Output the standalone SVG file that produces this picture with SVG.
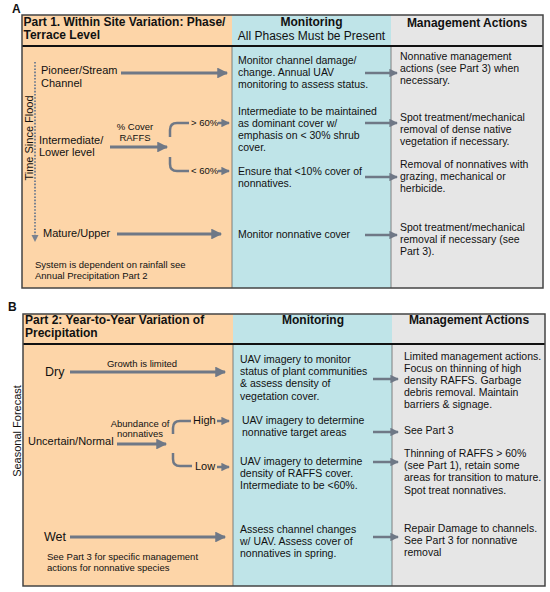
<svg xmlns="http://www.w3.org/2000/svg" width="550" height="592" viewBox="0 0 550 592">
<defs>
<style>
text{font-family:"Liberation Sans",Arial,sans-serif;fill:#111;}
.hd{font-size:12px;font-weight:bold;}
.hr{font-size:12px;}
.b{font-size:10.5px;}
.l{font-size:11px;}
.s{font-size:9.5px;}
.big{font-size:12.5px;}
.lab{font-size:12px;font-weight:bold;}
.org{fill:#FDD5A8;}
.cyn{fill:#BFE4E8;}
.gry{fill:#E6E6E6;}
.frame{fill:none;stroke:#444;stroke-width:1.5;}
.hline{stroke:#111;stroke-width:2;}
.sep{stroke:#666;stroke-width:0.8;}
.ar{stroke:#6F7886;stroke-width:3;fill:none;marker-end:url(#ah);}
.ars{stroke:#6F7886;stroke-width:2.5;fill:none;marker-end:url(#ahs);}
.cv{stroke:#6F7886;stroke-width:2.5;fill:none;}
</style>
<marker id="ah" viewBox="0 0 10 10" refX="9" refY="5" markerWidth="4" markerHeight="3.6" orient="auto" markerUnits="strokeWidth"><path d="M0,0 L10,5 L0,10 z" fill="#6F7886"/></marker>
<marker id="ahs" viewBox="0 0 10 10" refX="9" refY="5" markerWidth="3.6" markerHeight="3.4" orient="auto" markerUnits="strokeWidth"><path d="M0,0 L10,5 L0,10 z" fill="#6F7886"/></marker>
</defs>
<rect width="550" height="592" fill="#fff"/>

<text class="lab" x="12" y="13">A</text>
<text class="lab" x="8" y="311">B</text>

<g id="panelA">
<rect class="org" x="22" y="15" width="210" height="273"/>
<rect class="cyn" x="232" y="15" width="159" height="273"/>
<rect class="gry" x="391" y="15" width="152" height="273"/>
<line class="sep" x1="232" y1="46" x2="232" y2="288"/>
<line class="sep" x1="391" y1="46" x2="391" y2="288"/>
<line class="hline" x1="22" y1="46" x2="543" y2="46"/>
<rect class="frame" x="22" y="15" width="521" height="273"/>
</g>

<g id="panelB">
<rect class="org" x="23" y="314" width="210" height="272"/>
<rect class="cyn" x="233" y="314" width="159" height="272"/>
<rect class="gry" x="392" y="314" width="153" height="272"/>
<line class="sep" x1="233" y1="344" x2="233" y2="586"/>
<line class="sep" x1="392" y1="344" x2="392" y2="586"/>
<line class="hline" x1="23" y1="344" x2="545" y2="344"/>
<rect class="frame" x="23" y="314" width="522" height="272"/>
</g>

<g id="headerA">
<text class="hd" x="23.5" y="26">Part 1. Within Site Variation: Phase/</text>
<text class="hd" x="23.5" y="39">Terrace Level</text>
<text class="hd" x="311.5" y="26" text-anchor="middle">Monitoring</text>
<text class="hr" x="311.5" y="40" text-anchor="middle">All Phases Must be Present</text>
<text class="hd" x="467" y="27" text-anchor="middle">Management Actions</text>
</g>

<g id="headerB">
<text class="hd" x="25" y="324">Part 2: Year-to-Year Variation of</text>
<text class="hd" x="25" y="337">Precipitation</text>
<text class="hd" x="313" y="324" text-anchor="middle">Monitoring</text>
<text class="hd" x="469" y="324" text-anchor="middle">Management Actions</text>
</g>

<g id="axisA">
<line x1="35" y1="62" x2="35" y2="236" stroke="#7A8290" stroke-width="2" stroke-dasharray="1.6,1.6"/>
<path d="M31.5,235 L38.5,235 L35,242 z" fill="#7A8290"/>
<text class="l" transform="translate(32.5,138) rotate(-90)" text-anchor="middle">Time Since Flood</text>
</g>

<g id="leftA">
<text class="l" x="41" y="74">Pioneer/Stream</text>
<text class="l" x="41" y="87">Channel</text>
<text class="s" x="135" y="130" text-anchor="middle">% Cover</text>
<text class="s" x="135" y="141" text-anchor="middle">RAFFS</text>
<text class="l" x="39" y="144">Intermediate/</text>
<text class="l" x="39" y="156">Lower level</text>
<text class="s" x="191" y="126">&gt; 60%</text>
<text class="s" x="191" y="174">&lt; 60%</text>
<text class="l" x="43" y="237">Mature/Upper</text>
<text class="s" x="35" y="268">System is dependent on rainfall see</text>
<text class="s" x="35" y="279">Annual Precipitation Part 2</text>
</g>

<g id="monA">
<text class="b" x="238" y="64">Monitor channel damage/</text>
<text class="b" x="238" y="76">change. Annual UAV</text>
<text class="b" x="238" y="88">monitoring to assess status.</text>
<text class="b" x="238" y="115">Intermediate to be maintained</text>
<text class="b" x="238" y="127">as dominant cover w/</text>
<text class="b" x="238" y="139">emphasis on &lt; 30% shrub</text>
<text class="b" x="238" y="151">cover.</text>
<text class="b" x="238" y="175">Ensure that &lt;10% cover of</text>
<text class="b" x="238" y="187">nonnatives.</text>
<text class="b" x="238" y="238">Monitor nonnative cover</text>
</g>

<g id="mgmtA">
<text class="b" x="400" y="60">Nonnative management</text>
<text class="b" x="400" y="72">actions (see Part 3) when</text>
<text class="b" x="400" y="84">necessary.</text>
<text class="b" x="400" y="121">Spot treatment/mechanical</text>
<text class="b" x="400" y="133">removal of dense native</text>
<text class="b" x="400" y="145">vegetation if necessary.</text>
<text class="b" x="400" y="168">Removal of nonnatives with</text>
<text class="b" x="400" y="180">grazing, mechanical or</text>
<text class="b" x="400" y="192">herbicide.</text>
<text class="b" x="400" y="231">Spot treatment/mechanical</text>
<text class="b" x="400" y="243">removal if necessary (see</text>
<text class="b" x="400" y="255">Part 3).</text>
</g>

<g id="axisB">
<text class="l" transform="translate(20.5,431) rotate(-90)" text-anchor="middle">Seasonal Forecast</text>
</g>

<g id="leftB">
<text class="big" x="45" y="376">Dry</text>
<text class="s" x="142" y="367" text-anchor="middle">Growth is limited</text>
<text class="s" x="140" y="427" text-anchor="middle">Abundance of</text>
<text class="s" x="140" y="437" text-anchor="middle">nonnatives</text>
<text class="l" x="28" y="445">Uncertain/Normal</text>
<text class="l" x="193" y="424">High</text>
<text class="l" x="195" y="470">Low</text>
<text class="big" x="44" y="541">Wet</text>
<text class="s" x="47" y="560">See Part 3 for specific management</text>
<text class="s" x="47" y="571">actions for nonnative species</text>
</g>

<g id="monB">
<text class="b" x="240" y="363">UAV imagery to monitor</text>
<text class="b" x="240" y="375">status of plant communities</text>
<text class="b" x="240" y="387">&amp; assess density of</text>
<text class="b" x="240" y="400">vegetation cover.</text>
<text class="b" x="242" y="424">UAV imagery to determine</text>
<text class="b" x="242" y="436">nonnative target areas</text>
<text class="b" x="240" y="465">UAV imagery to determine</text>
<text class="b" x="240" y="477">density of RAFFS cover.</text>
<text class="b" x="240" y="489">Intermediate to be &lt;60%.</text>
<text class="b" x="240" y="533">Assess channel changes</text>
<text class="b" x="240" y="545">w/ UAV. Assess cover of</text>
<text class="b" x="240" y="557">nonnatives in spring.</text>
</g>

<g id="mgmtB">
<text class="b" x="404" y="360">Limited management actions.</text>
<text class="b" x="404" y="372">Focus on thinning of high</text>
<text class="b" x="404" y="384">density RAFFS. Garbage</text>
<text class="b" x="404" y="396">debris removal. Maintain</text>
<text class="b" x="404" y="408">barriers &amp; signage.</text>
<text class="b" x="404" y="434">See Part 3</text>
<text class="b" x="404" y="457">Thinning of RAFFS &gt; 60%</text>
<text class="b" x="404" y="469">(see Part 1), retain some</text>
<text class="b" x="404" y="481">areas for transition to mature.</text>
<text class="b" x="404" y="494">Spot treat nonnatives.</text>
<text class="b" x="404" y="532">Repair Damage to channels.</text>
<text class="b" x="404" y="544">See Part 3 for nonnative</text>
<text class="b" x="404" y="556">removal</text>
</g>

<g id="connectors">
<line class="ar" x1="121" y1="73" x2="227" y2="73"/>
<line class="ar" x1="110" y1="147" x2="167" y2="147"/>
<path class="cv" d="M170,137 L170,130 Q170,123 177,123 L189,123"/>
<path class="cv" d="M170,157 L170,164 Q170,171 177,171 L189,171"/>
<line class="ars" x1="218" y1="123" x2="229" y2="123"/>
<line class="ars" x1="218" y1="171" x2="229" y2="171"/>
<line class="ar" x1="117" y1="234" x2="221" y2="234"/>
<line class="ars" x1="365" y1="73" x2="397" y2="73"/>
<line class="ars" x1="365" y1="123" x2="397" y2="123"/>
<line class="ars" x1="365" y1="177" x2="397" y2="177"/>
<line class="ars" x1="365" y1="235" x2="397" y2="235"/>

<line class="ar" x1="70" y1="372" x2="225" y2="372"/>
<line class="ar" x1="117" y1="444" x2="166" y2="444"/>
<path class="cv" d="M173,434 L173,428 Q173,421 180,421 L191,421"/>
<path class="cv" d="M173,453 L173,459 Q173,466 180,466 L192,466"/>
<line class="ars" x1="217" y1="421" x2="229" y2="421"/>
<line class="ars" x1="217" y1="467" x2="229" y2="467"/>
<line class="ar" x1="70" y1="537" x2="225" y2="537"/>
<line class="ars" x1="373" y1="379" x2="398" y2="379"/>
<line class="ars" x1="373" y1="432" x2="398" y2="432"/>
<line class="ars" x1="373" y1="462" x2="398" y2="462"/>
<line class="ars" x1="373" y1="537" x2="398" y2="537"/>
</g>
</svg>
